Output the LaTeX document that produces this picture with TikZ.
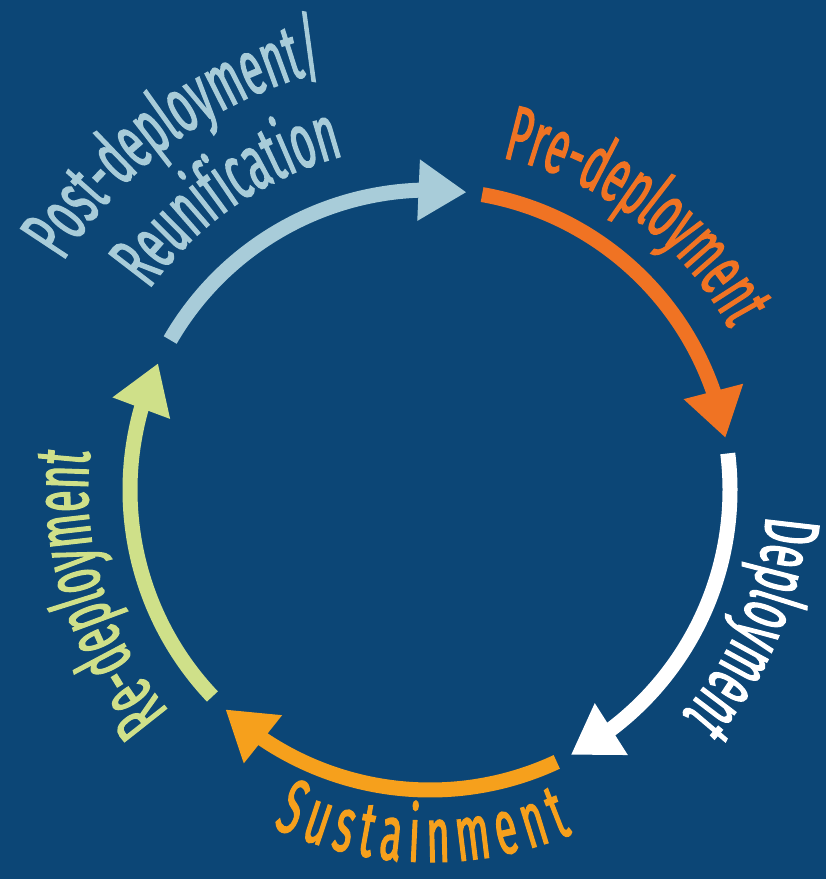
\documentclass[tikz,border=0pt]{standalone}
\usepackage{fontspec}
\usetikzlibrary{arrows.meta,bending,decorations.text}
\newfontfamily\cyclefont[FakeStretch=0.51,FakeBold=1.6]{Fira Sans}
\newcommand{\phasefont}{\cyclefont\fontsize{78}{80}\selectfont}
\definecolor{bgblue}{RGB}{12,70,118}
\definecolor{postblue}{RGB}{168,204,217}
\definecolor{preorange}{RGB}{240,115,35}
\definecolor{sustorange}{RGB}{246,160,28}
\definecolor{regreen}{RGB}{207,224,137}

\begin{document}
\begin{tikzpicture}[x=1pt,y=1pt,
  phase/.style={line width=15pt,-{Triangle[width=58pt,length=48pt]}},
  phasetext/.style={decorate,decoration={text along path,text align=center,#1}}]
\fill[bgblue] (-430,-389) rectangle (396,490);
\coordinate (O) at (0,0);
% arrows of the cycle
\draw[phase,postblue] (150:300) arc[start angle=150,end angle=83,radius=300];
\draw[phase,preorange] (80:300) arc[start angle=80,end angle=10,radius=300];
\draw[phase,white] (7:300) arc[start angle=7,end angle=-62,radius=300];
\draw[phase,sustorange] (-65:300) arc[start angle=-65,end angle=-133,radius=300];
\draw[phase,regreen] (-136.5:300) arc[start angle=-136.5,end angle=-205,radius=300];
% phase names
\path[phasetext={text color=postblue,text={|\phasefont|Post-deployment/}}] (171:432) arc[start angle=171,end angle=81,radius=432];
\path[phasetext={text color=postblue,text={|\phasefont|Reunification}}] (169.5:345) arc[start angle=169.5,end angle=79.5,radius=345];
\path[phasetext={text color=preorange,text={|\phasefont|Pre-deployment}}] (98:340) arc[start angle=98,end angle=8,radius=340];
\path[phasetext={text color=white,text={|\phasefont|Deployment}}] (22:337) arc[start angle=22,end angle=-68,radius=337];
\path[decorate,decoration={text along path,text align={fit to path},text color=sustorange,text={|\phasefont|Sustainment}}] (-115:372) arc[start angle=-115,end angle=-67.5,radius=372];
\path[phasetext={text color=regreen,text={|\phasefont|Re-deployment}}] (242:342) arc[start angle=242,end angle=152,radius=342];
\end{tikzpicture}
\end{document}
